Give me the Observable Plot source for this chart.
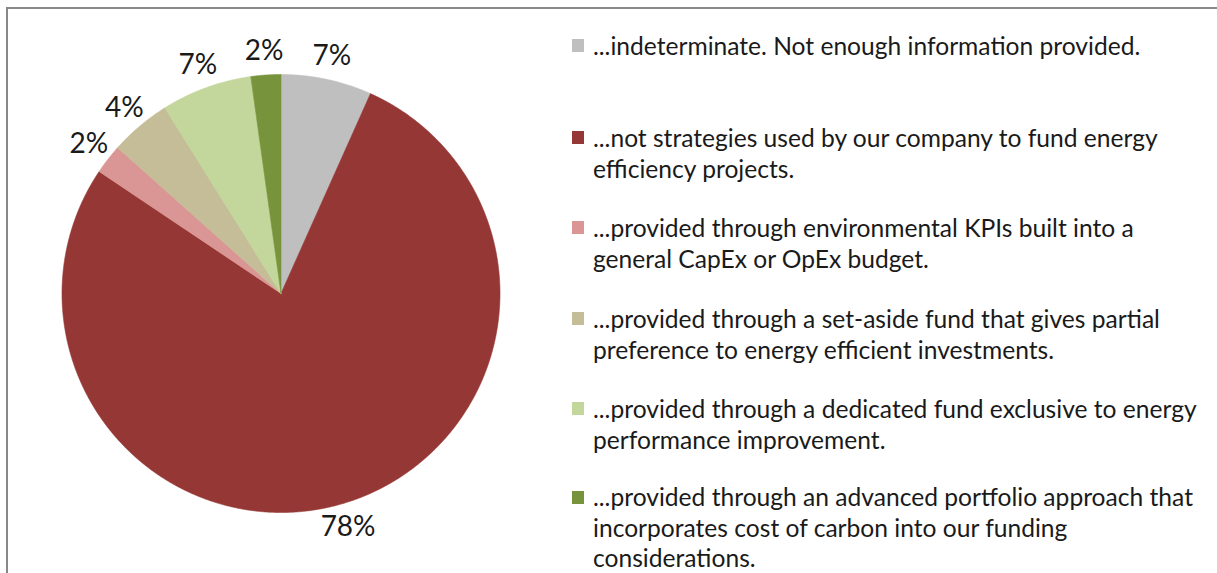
<!DOCTYPE html>
<html>
<head>
<meta charset="utf-8">
<script src="https://cdn.jsdelivr.net/npm/d3@7"></script>
<script src="https://cdn.jsdelivr.net/npm/@observablehq/plot@0.6"></script>
<style>
  html, body { margin: 0; padding: 0; background: #fff; }
  #frame { position: relative; width: 1217px; height: 573px; overflow: hidden; background: #fff;
           font-family: Lato, "Open Sans", sans-serif; color: #1a1a1a; }
  #border { position: absolute; left: 6px; top: 7px; width: 1400px; height: 800px;
            border: 2px solid #888; box-sizing: border-box; }
  #pie { position: absolute; left: 0; top: 0; }
  #legend { position: absolute; left: 572px; top: 0; width: 640px; }
  .item { position: absolute; left: 0; display: flex; align-items: flex-start; }
  .swatch { width: 12px; height: 13px; margin-top: 9px; flex: none; }
  .label { margin-left: 9px; font-size: 24.6px; line-height: 31px; white-space: pre; }
  .item.last .label { line-height: 30.5px; }
  .item.last .swatch { margin-top: 9px; }
</style>
</head>
<body>
<div id="frame">
  <div id="border"></div>
  <div id="pie"></div>
  <div id="legend"></div>
</div>
<script>
// ---- data ----
const categories = [
  "...indeterminate. Not enough information provided.",
  "...not strategies used by our company to fund energy\nefficiency projects.",
  "...provided through environmental KPIs built into a\ngeneral CapEx or OpEx budget.",
  "...provided through a set-aside fund that gives partial\npreference to energy efficient investments.",
  "...provided through a dedicated fund exclusive to energy\nperformance improvement.",
  "...provided through an advanced portfolio approach that\nincorporates cost of carbon into our funding\nconsiderations."
];
const values = [6.7, 77.7, 2.2, 4.5, 6.7, 2.2];
const colors = ["#BFBFBF", "#953735", "#D99694", "#C4BD97", "#C3D69B", "#77933C"];
const legendTops = [30, 122, 212, 303, 393, 482];

// ---- pie geometry from data (clockwise from 12 o'clock) ----
const total = d3.sum(values);
const slices = [];
let acc = 0;
values.forEach((v, i) => {
  const a0 = acc / total * 2 * Math.PI;
  acc += v;
  const a1 = acc / total * 2 * Math.PI;
  slices.push({cat: categories[i], value: v, a0, a1, color: colors[i],
               label: Math.round(v / total * 100) + "%"});
});
const polys = [];
for (const s of slices) {
  polys.push({cat: s.cat, x: 0, y: 0, color: s.color});
  const n = Math.max(4, Math.ceil((s.a1 - s.a0) / 0.004));
  for (let k = 0; k <= n; k++) {
    const a = s.a0 + (s.a1 - s.a0) * k / n;
    polys.push({cat: s.cat, x: Math.sin(a), y: Math.cos(a), color: s.color});
  }
  polys.push({cat: s.cat, x: 0, y: 0, color: s.color});
}
const labelPts = slices.map(s => {
  const m = (s.a0 + s.a1) / 2;
  const r = 1.11;
  return {x: Math.sin(m) * r, y: Math.cos(m) * r, label: s.label};
});

const cx = 280.5, cy = 293, R = 219;
const chart = Plot.plot({
  width: 560, height: 573,
  margin: 0,
  x: {domain: [-1, 1], range: [cx - R, cx + R], axis: null},
  y: {domain: [-1, 1], range: [cy + R, cy - R], axis: null},
  marks: [
    Plot.line(polys, {x: "x", y: "y", z: "cat", fill: d => d.color, stroke: d => d.color,
                      strokeWidth: 0.6, curve: "linear"}),
    Plot.text(labelPts, {x: "x", y: "y", text: "label", fontSize: 28, fill: "#1a1a1a",
                         fontFamily: "Lato, 'Open Sans', sans-serif"})
  ]
});
chart.style.background = "transparent";
document.getElementById("pie").appendChild(chart);

const legend = document.getElementById("legend");
categories.forEach((c, i) => {
  const item = document.createElement("div");
  item.className = "item" + (i === categories.length - 1 ? " last" : "");
  item.style.top = legendTops[i] + "px";
  const sw = document.createElement("div");
  sw.className = "swatch";
  sw.style.background = colors[i];
  const lab = document.createElement("div");
  lab.className = "label";
  lab.textContent = c;
  item.appendChild(sw);
  item.appendChild(lab);
  legend.appendChild(item);
});
</script>
</body>
</html>
